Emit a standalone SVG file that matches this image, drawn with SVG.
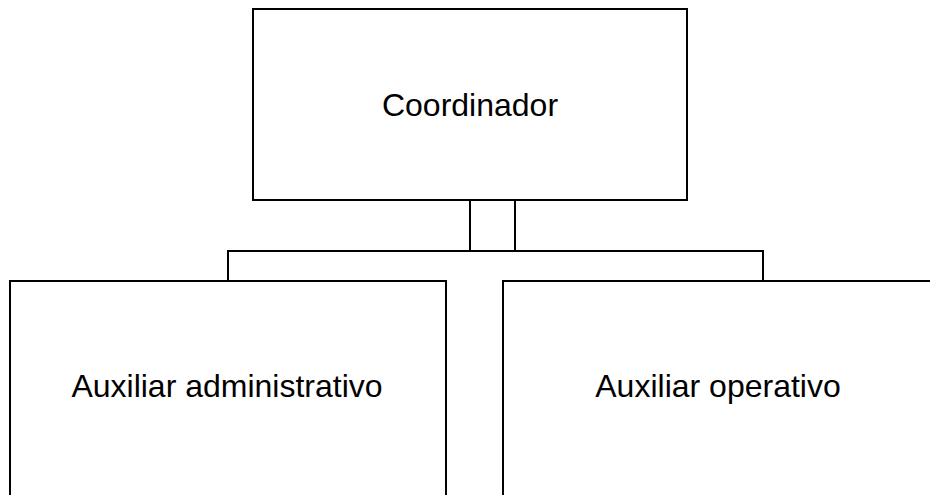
<svg xmlns="http://www.w3.org/2000/svg" width="930" height="495" viewBox="0 0 930 495">
<style>
.box{fill:#ffffff;stroke:#000000;stroke-width:2}
.conn{fill:none;stroke:#000000;stroke-width:2}
.lbl{font-family:"Liberation Sans",Arial,sans-serif;font-size:32px;fill:#000000;text-anchor:middle}
</style>
<rect width="930" height="495" fill="#ffffff"/>
<g id="connectors">
<path class="conn" d="M470,200 V251 M515,200 V251 M228,281 V251 H763 V281"/>
</g>
<g id="coordinador">
<rect class="box" x="253" y="9" width="434" height="191"/>
<text class="lbl" x="470" y="116">Coordinador</text>
</g>
<g id="auxiliar-administrativo">
<rect class="box" x="10" y="281" width="436" height="230"/>
<text class="lbl" x="227" y="397">Auxiliar administrativo</text>
</g>
<g id="auxiliar-operativo">
<rect class="box" x="503" y="281" width="440" height="230"/>
<text class="lbl" x="718" y="397">Auxiliar operativo</text>
</g>
</svg>
